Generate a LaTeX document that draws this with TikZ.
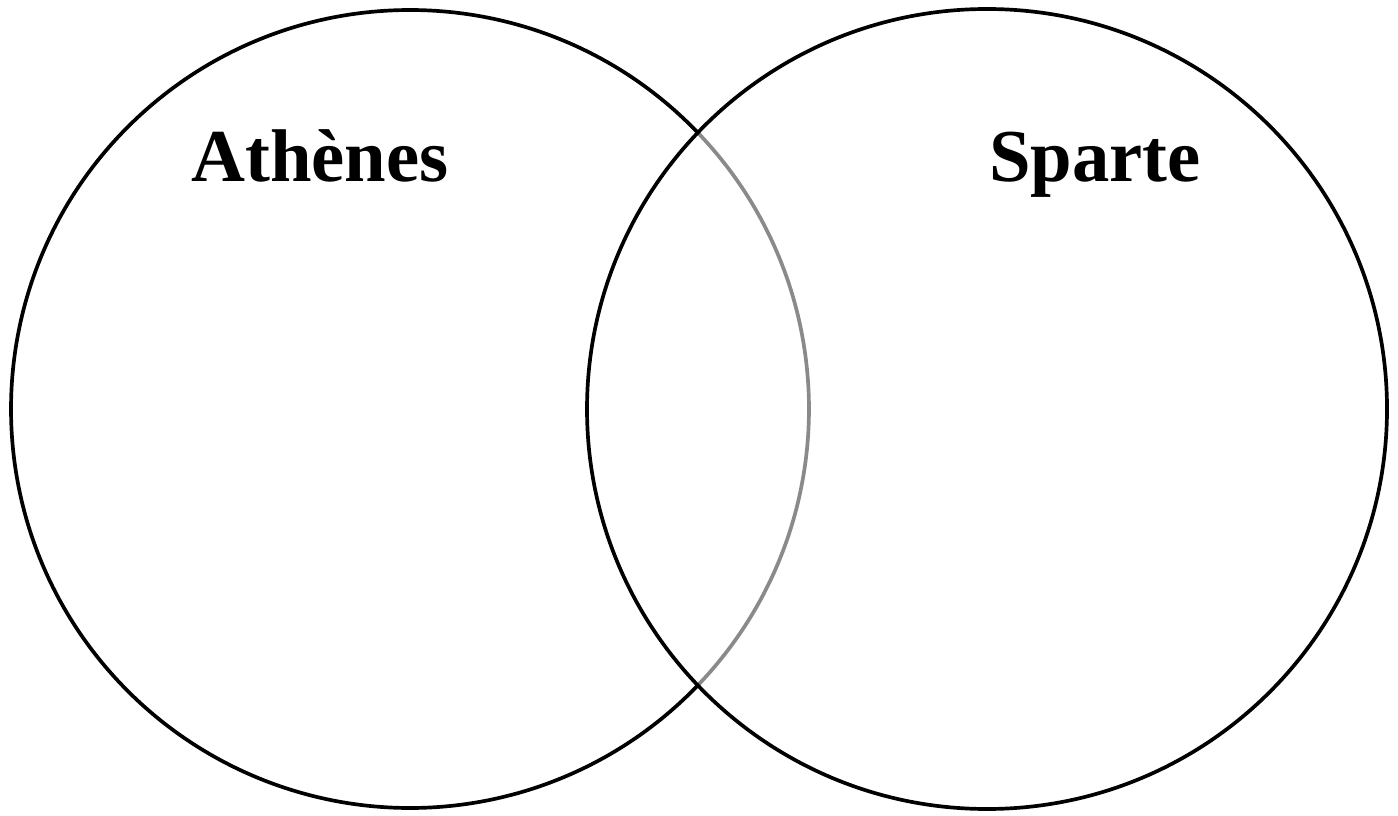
\documentclass[tikz,border=0pt]{standalone}
\usepackage{fontspec}
\setmainfont{Liberation Serif}
\usepackage{tikz}
\definecolor{ArcGray}{HTML}{8A8A8A}
\tikzset{
  ring/.style={draw=black,line width=2.1pt},
  label/.style={font=\fontsize{42.5}{46}\selectfont\bfseries,anchor=base}}

\begin{document}
\begin{tikzpicture}[x=0.02cm,y=0.02cm]
  \useasboundingbox (0,0) rectangle (1398,815);
  % circles
  \draw[ring] (410,406) ++(43.8:399) arc[start angle=43.8,end angle=316.2,radius=399];
  \draw[ring,draw=ArcGray] (410,406) ++(-43.8:399) arc[start angle=-43.8,end angle=43.8,radius=399];
  \draw[ring] (987,406) circle[radius=400];
  % titles
  \node[label] (athenes) at (320,633) {Athènes};
  \node[label] (sparte) at (1095,633) {Sparte};
\end{tikzpicture}
\end{document}
